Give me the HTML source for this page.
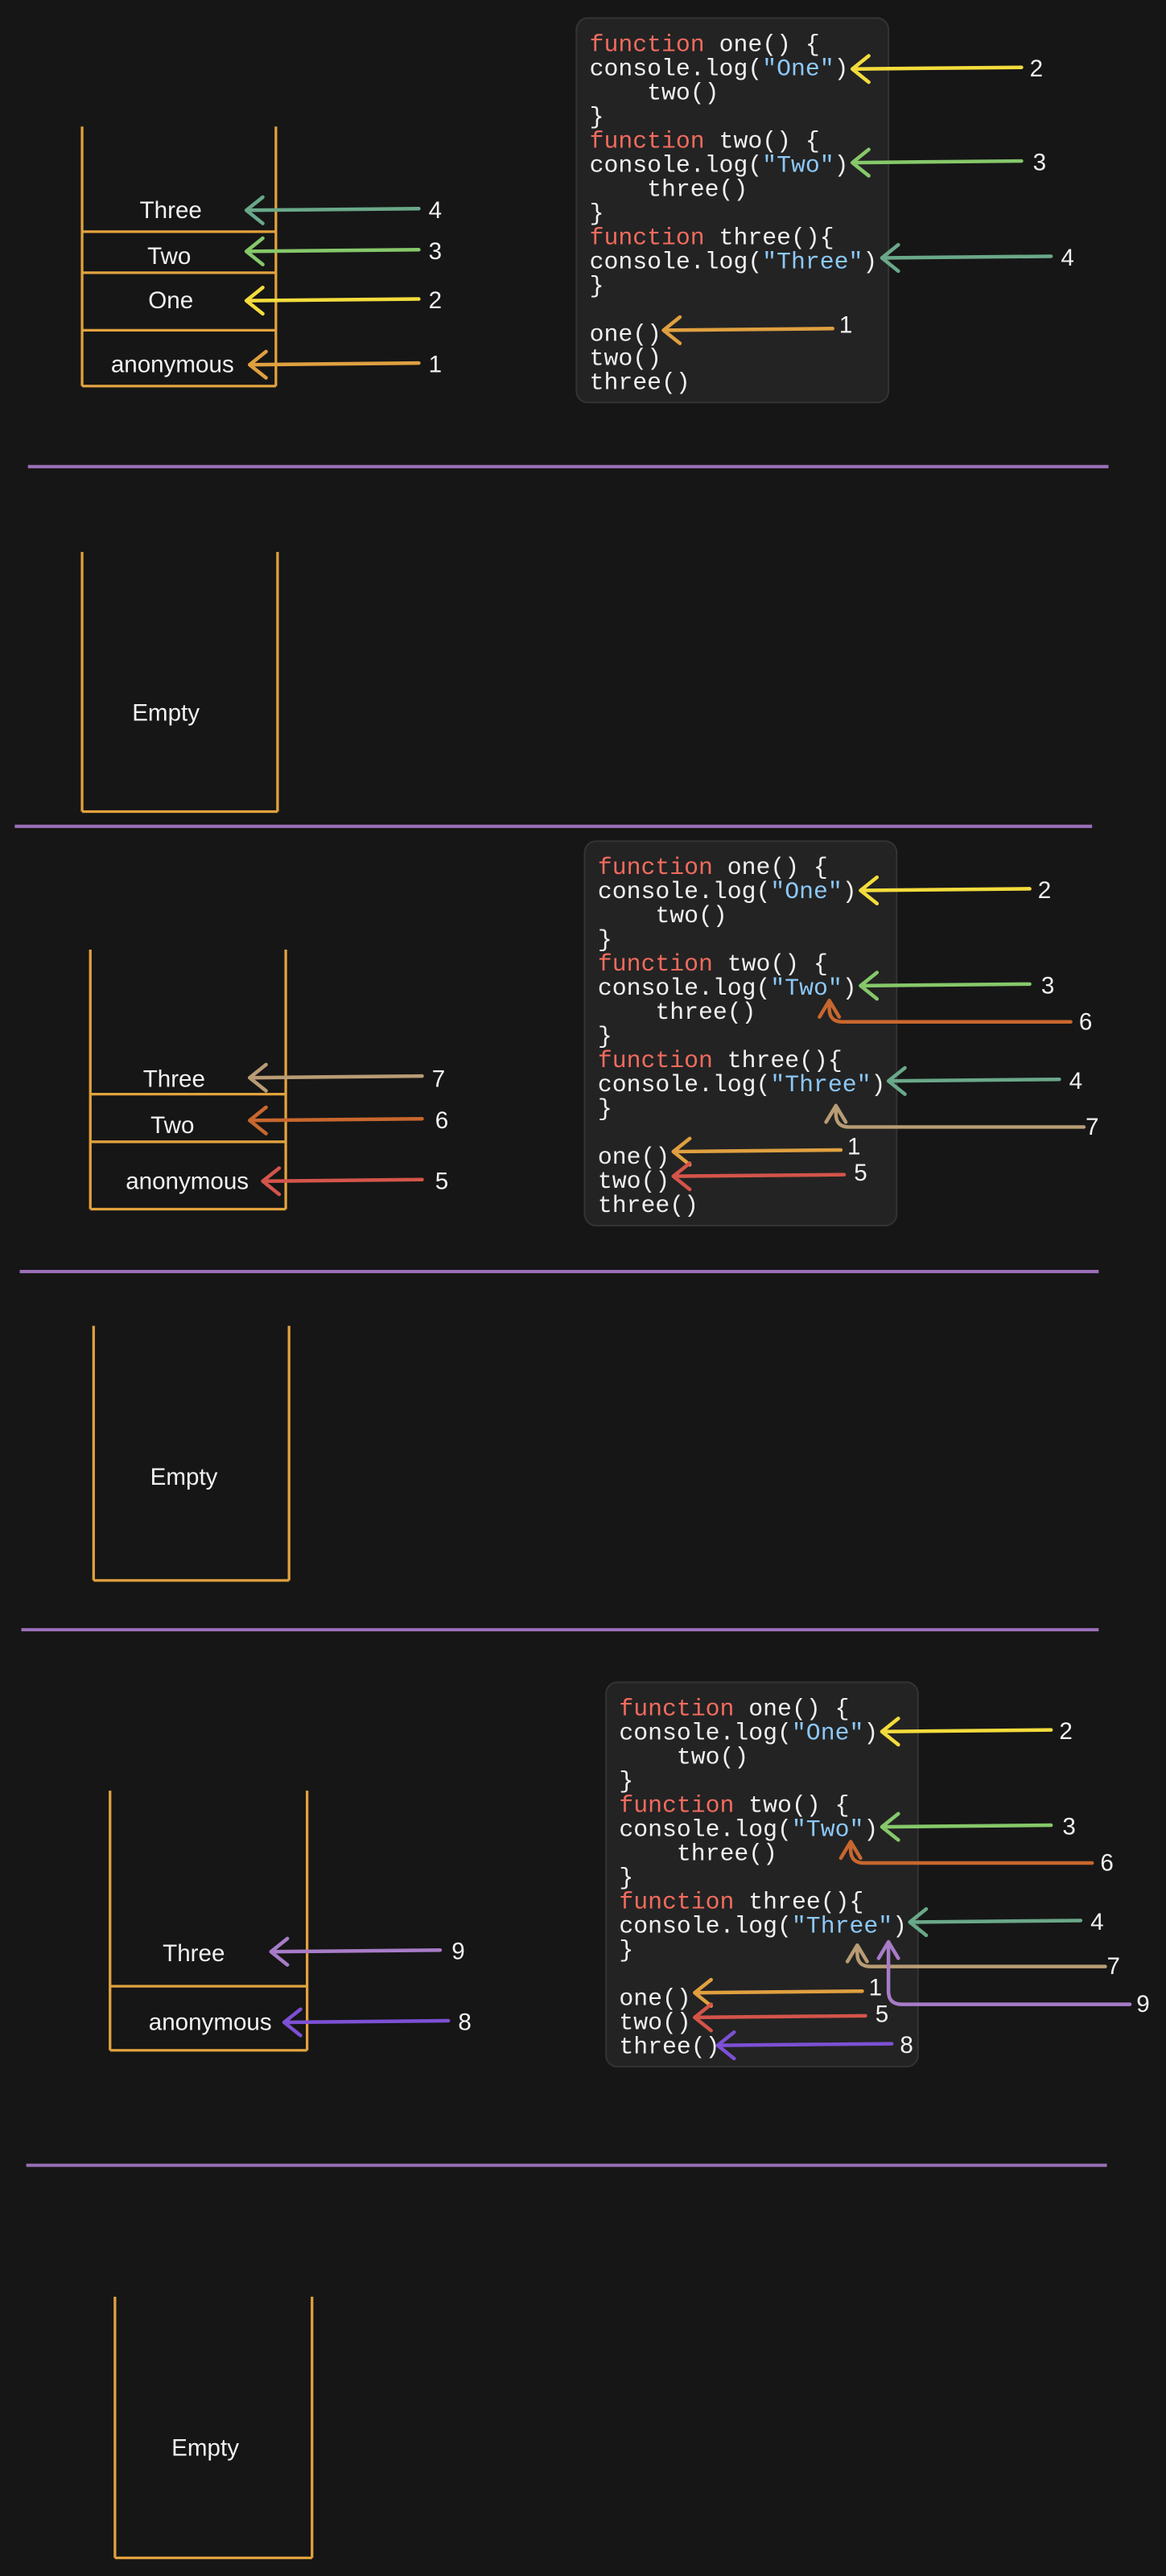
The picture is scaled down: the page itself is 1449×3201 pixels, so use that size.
<!DOCTYPE html>
<html><head><meta charset="utf-8"><style>
html,body{margin:0;padding:0;background:#161616;}
svg{display:block;}
.lbl{font-family:"Liberation Sans",sans-serif;font-size:14.5px;fill:#f2f2f2;text-anchor:middle;dominant-baseline:central;}
.num{font-family:"Liberation Sans",sans-serif;font-size:14.5px;fill:#f2f2f2;dominant-baseline:central;}
.code{font-family:"Liberation Mono",monospace;font-size:14.6px;fill:#f0f0f0;}
.kw{fill:#f26b5e}.str{fill:#8cc8f8}
</style></head><body>
<svg id="s" width="1449" height="3201" viewBox="0 0 710 1568" preserveAspectRatio="none" xmlns="http://www.w3.org/2000/svg">
<rect width="710" height="1568" fill="#161616"/>
</svg>
<script>
const S=document.getElementById('s');
const NS='http://www.w3.org/2000/svg';
function el(tag,attrs,parent,txt){const e=document.createElementNS(NS,tag);for(const k in attrs)e.setAttribute(k,attrs[k]);if(txt!==undefined)e.textContent=txt;(parent||S).appendChild(e);return e;}
const C={y:'#f3dc3c',g:'#86c86a',t:'#6aa88a',o:'#e0a040',r:'#d4544a',b:'#c8672e',tan:'#b89c74',lav:'#a87cc8',p:'#7d50d4',sep:'#9b6fb8',stk:'#e2a23e'};
function arrowL(x1,y,x2,col,name){const g=el('g',{});


el('path',{d:`M${x1} ${y-1} L${x2} ${y} M${x2+10} ${y-8} L${x2} ${y} L${x2+10} ${y+8}`,stroke:col,'stroke-width':2.2,fill:'none','stroke-linecap':'round','stroke-linejoin':'round'},g);}
function arrowU(x1,y,x2,ytop,col,name){const g=el('g',{});


el('path',{d:`M${x1} ${y} L${x2+8} ${y} Q${x2} ${y} ${x2} ${y-8} L${x2} ${ytop} M${x2-6} ${ytop+10} L${x2} ${ytop} L${x2+6} ${ytop+10}`,stroke:col,'stroke-width':2.2,fill:'none','stroke-linecap':'round','stroke-linejoin':'round'},g);}
function num(x,y,t){const e=el('text',{x:x,y:y,class:'num'},S,t);

}
function sep(x1,x2,y){const e=el('line',{x1:x1,x2:x2,y1:y,y2:y,stroke:C.sep,'stroke-width':2});

}
function stack(xl,xr,yt,yb,rows,labels){const g=el('g',{});


const st={stroke:C.stk,'stroke-width':1.6,fill:'none'};
el('line',Object.assign({x1:xl,x2:xl,y1:yt,y2:yb},st),g);
el('line',Object.assign({x1:xr,x2:xr,y1:yt,y2:yb},st),g);
el('line',Object.assign({x1:xl,x2:xr,y1:yb,y2:yb},st),g);
rows.forEach(y=>el('line',Object.assign({x1:xl,x2:xr,y1:y,y2:y},st),g));
labels.forEach(l=>{const t=el('text',{x:l[0],y:l[1],class:'lbl'},g,l[2]);

});}
const LINES=[[['kw','function'],['',' one() {']],[['','console.log('],['str','"One"'],['',')']],[['','    two()']],[['','}']],
[['kw','function'],['',' two() {']],[['','console.log('],['str','"Two"'],['',')']],[['','    three()']],[['','}']],
[['kw','function'],['',' three(){']],[['','console.log('],['str','"Three"'],['',')']],[['','}']],null,
[['','one()']],[['','two()']],[['','three()']]];
function code(dx,dy){const g=el('g',{});


el('rect',{x:351+dx,y:11+dy,width:190,height:234,rx:7,fill:'#232323',stroke:'#333',"stroke-width":1},g);
LINES.forEach((ln,i)=>{if(!ln)return;const t=el('text',{x:359+dx,y:31+dy+i*14.7,class:'code','xml:space':'preserve'},g);t.setAttribute('style','white-space:pre');
ln.forEach(p=>{const s=el('tspan',p[0]?{class:p[0]}:{},t,p[1]);});});}
// Panel 1
code(0,0);
stack(50,168,77,235,[141,166,201],[[104,128,'Three'],[103,156,'Two'],[104,183,'One'],[105,222,'anonymous']]);
arrowL(255,128,150,C.t,'arrow-4');num(261,128,'4');
arrowL(255,153,150,C.g,'arrow-3');num(261,153,'3');
arrowL(255,183,150,C.y,'arrow-2');num(261,183,'2');
arrowL(255,222,152,C.o,'arrow-1');num(261,222,'1');
arrowL(622,42,519,C.y,'arrow-2');num(627,42,'2');
arrowL(622,99,519,C.g,'arrow-3');num(629,99,'3');
arrowL(640,157,537,C.t,'arrow-4');num(646,157,'4');
arrowL(507,201,404,C.o,'arrow-1');num(511,198,'1');
sep(17,675,284);
// Panel 2
stack(50,169,336,494,[],[[101,434,'Empty']]);
sep(9,665,503);
// Panel 3
code(5,501);
stack(55,174,578,736,[666,695],[[106,657,'Three'],[105,685,'Two'],[114,719,'anonymous']]);
arrowL(257,656,152,C.tan,'arrow-7');num(263,657,'7');
arrowL(257,682,152,C.b,'arrow-6');num(265,682,'6');
arrowL(257,719,160,C.r,'arrow-5');num(265,719,'5');
arrowL(627,542,524,C.y,'arrow-2');num(632,542,'2');
arrowL(627,600,524,C.g,'arrow-3');num(634,600,'3');
arrowU(652,622,505,609,C.b,'arrow-6');num(657,622,'6');
arrowL(645,658,541,C.t,'arrow-4');num(651,658,'4');
arrowU(660,686,509,673,C.tan,'arrow-7');num(661,686,'7');
arrowL(512,701,410,C.o,'arrow-1');num(516,698,'1');
arrowL(514,716,410,C.r,'arrow-5');num(520,714,'5');
sep(12,669,774);
// Panel 4
stack(57,176,807,962,[],[[112,899,'Empty']]);
sep(13,669,992);
// Panel 5
code(18,1013);
stack(67,187,1090,1248,[1209],[[118,1189,'Three'],[128,1231,'anonymous']]);
arrowL(268,1188,165,C.lav,'arrow-9');num(275,1188,'9');
arrowL(273,1231,173,C.p,'arrow-8');num(279,1231,'8');
arrowL(640,1054,537,C.y,'arrow-2');num(645,1054,'2');
arrowL(640,1112,537,C.g,'arrow-3');num(647,1112,'3');
arrowU(665,1134,518,1121,C.b,'arrow-6');num(670,1134,'6');
arrowL(658,1170,554,C.t,'arrow-4');num(664,1170,'4');
arrowU(673,1197,522,1184,C.tan,'arrow-7');num(674,1197,'7');
arrowU(688,1220,541,1182,C.lav,'arrow-9');num(692,1220,'9');
arrowL(525,1213,423,C.o,'arrow-1');num(529,1210,'1');
arrowL(527,1228,423,C.r,'arrow-5');num(533,1226,'5');
arrowL(543,1245,437,C.p,'arrow-8');num(548,1245,'8');
sep(16,674,1318);
// Panel 6
stack(70,190,1398,1557,[],[[125,1490,'Empty']]);
</script>
</body></html>
